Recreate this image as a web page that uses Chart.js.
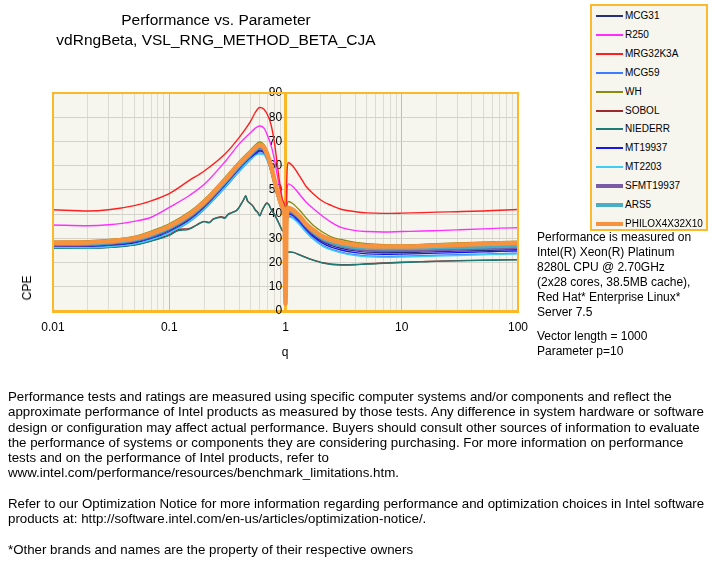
<!DOCTYPE html>
<html><head><meta charset="utf-8">
<script src="https://cdn.jsdelivr.net/npm/chart.js@4.4.0/dist/chart.umd.min.js"></script>
<style>
html,body{margin:0;padding:0;background:#fff;}
#wrap{position:relative;width:715px;height:570px;overflow:hidden;font-family:Arial,"Liberation Sans",sans-serif;color:#000;}
#c{position:absolute;left:0;top:0;}
.t{position:absolute;white-space:nowrap;}
#title{left:0;width:432px;top:10px;text-align:center;font-size:15.5px;line-height:19.5px;}
#note{left:537px;top:230px;font-size:12px;line-height:15px;}
#note2{left:537px;top:329px;font-size:12px;line-height:15px;}
#foot{left:8px;top:389px;font-size:13.3px;line-height:15.3px;}
#ytitle{left:27px;top:288px;font-size:12px;transform:translate(-50%,-50%) rotate(-90deg);}
#xtitle{left:285px;top:352px;font-size:12px;transform:translate(-50%,-50%);}
#legend{position:absolute;left:590px;top:4px;width:114px;height:223px;border:2px solid #FBBA2E;background:#F6F6EF;box-sizing:content-box;}
.li{position:absolute;left:0;height:14px;}
.ls{position:absolute;left:4px;width:27px;}
.lt{position:absolute;left:33px;top:0;font-size:10px;line-height:14px;letter-spacing:0px;}
</style></head><body>
<div id="wrap">
<canvas id="c" width="715" height="570"></canvas>
<div class="t" id="title">Performance vs. Parameter<br>vdRngBeta, VSL_RNG_METHOD_BETA_CJA</div>
<div class="t" id="ytitle">CPE</div>
<div class="t" id="xtitle">q</div>
<div id="legend"></div>
<div class="t" id="note">Performance is measured on<br>Intel(R) Xeon(R) Platinum<br>8280L CPU @ 2.70GHz<br>(2x28 cores, 38.5MB cache),<br>Red Hat* Enterprise Linux*<br>Server 7.5</div>
<div class="t" id="note2">Vector length = 1000<br>Parameter p=10</div>
<div class="t" id="foot">Performance tests and ratings are measured using specific computer systems and/or components and reflect the<br>approximate performance of Intel products as measured by those tests. Any difference in system hardware or software<br>design or configuration may affect actual performance. Buyers should consult other sources of information to evaluate<br>the performance of systems or components they are considering purchasing. For more information on performance<br>tests and on the performance of Intel products, refer to<br>www.intel.com/performance/resources/benchmark_limitations.htm.<br><br>Refer to our Optimization Notice for more information regarding performance and optimization choices in Intel software<br>products at: http://software.intel.com/en-us/articles/optimization-notice/.<br><br>*Other brands and names are the property of their respective owners</div>
</div>
<script>
// ---- data ----
const qMain = [0.01,0.02,0.03,0.05,0.07,0.1,0.15,0.2,0.3,0.4,0.5,0.55,0.6,0.65,0.7,0.75,0.8,0.85,0.9,0.95,0.98,1,1.02,1.06,1.15,1.33,1.5,1.72,2.1,2.5,3,4,5,7,10,15,20,30,50,70,100];
const qQuasi = [0.01,0.02,0.03,0.05,0.07,0.1,0.12,0.14,0.15,0.17,0.19,0.2,0.22,0.24,0.26,0.28,0.3,0.32,0.34,0.36,0.38,0.4,0.42,0.44,0.455,0.47,0.49,0.52,0.55,0.58,0.6,0.63,0.66,0.69,0.72,0.75,0.8,0.85,0.9,0.95,0.98,1,1.02,1.06,1.15,1.33,1.5,1.72,2.1,2.5,3,4,5,7,10,15,20,30,50,70,100];

const mcg31 = [26.8,26.8,27.2,28.4,30.3,33.2,38.0,43.0,52.0,58.7,63.5,65.3,66.4,65.8,62.6,58.2,52.8,48.0,44.3,41.5,40.0,5.0,36.0,40.5,40.0,37.2,34.2,31.5,28.5,27.0,25.9,24.8,24.3,24.1,24.1,24.3,24.5,24.7,25.0,25.2,25.4];
const r250 = [35.5,35.2,35.6,37.0,38.7,42.8,47.8,52.3,61.5,69.0,73.6,75.5,76.4,75.6,72.5,68.5,63.0,56.0,50.0,45.0,43.0,4.0,45.0,52.5,51.5,48.0,45.0,42.4,39.0,36.5,34.5,33.2,32.8,32.6,32.8,33.0,33.2,33.5,33.9,34.2,34.4];
const mrg32k3a = [41.8,41.3,41.8,43.5,45.5,48.5,54.0,57.8,64.7,71.7,78.3,82.0,84.0,83.4,81.0,77.0,70.0,60.5,51.5,45.5,43.0,4.0,50.0,61.2,60.0,55.5,51.5,48.5,45.2,43.5,42.0,41.0,40.5,40.3,40.4,40.6,40.8,41.0,41.3,41.6,41.9];
const mcg59 = [26.0,26.0,26.4,27.5,29.3,32.2,36.9,41.9,50.8,57.6,62.5,64.4,65.3,65.0,62.0,57.6,52.2,47.5,43.8,41.0,39.6,5.0,35.0,39.2,38.7,35.9,32.9,30.0,27.0,25.4,24.3,23.2,22.7,22.5,22.6,22.8,23.0,23.2,23.5,23.7,23.9];
const wh = [28.8,29.0,29.5,30.8,33.0,36.0,41.0,46.0,55.0,61.8,66.5,68.5,69.8,68.8,65.3,60.5,55.0,50.0,46.0,43.5,42.5,4.0,40.0,45.2,44.4,41.5,38.5,35.5,32.5,30.5,29.5,28.3,27.8,27.4,27.3,27.5,27.8,28.1,28.4,28.6,28.8];
const sobol = [26.0,26.0,26.3,27.3,29.0,31.4,33.6,33.9,34.1,35.4,36.7,37.0,36.6,38.0,38.6,38.9,38.5,39.9,40.5,41.0,41.6,42.9,44.6,46.2,47.4,45.6,44.7,43.6,41.8,40.6,39.4,41.6,43.4,44.6,43.9,42.1,40.1,37.6,35.1,33.1,32.1,5.0,20.2,24.4,24.3,23.2,22.1,21.1,19.9,19.3,19.1,19.2,19.5,19.8,20.1,20.4,20.6,20.8,21.0,21.1,21.2];
const niederr = [25.9,25.9,26.2,27.2,28.9,31.2,33.2,33.5,33.9,35.3,36.6,36.9,36.4,37.9,38.5,38.7,38.3,39.8,40.4,40.9,41.5,42.8,44.5,46.3,47.6,45.5,44.6,43.5,41.6,40.5,39.2,41.5,43.3,44.5,43.8,42.0,40.0,37.5,35.0,33.0,32.0,5.0,20.0,24.3,24.2,23.1,22.0,21.0,19.8,19.2,19.0,19.1,19.4,19.7,20.0,20.3,20.5,20.7,20.9,21.0,21.1];
const mt19937 = [26.4,26.4,26.8,28.0,29.8,32.6,37.4,42.4,51.4,58.1,63.0,64.9,66.0,65.5,62.4,58.0,52.5,47.8,44.0,41.3,39.8,5.0,35.5,40.0,39.5,36.7,33.7,30.9,27.9,26.3,25.2,24.1,23.6,23.4,23.5,23.7,23.9,24.1,24.4,24.6,24.8];
const mt2203 = [26.2,26.1,26.5,27.6,29.4,32.3,37.1,42.1,51.0,57.8,62.6,64.2,64.8,64.6,62.0,57.8,52.4,47.6,43.9,41.1,39.7,5.0,35.0,38.8,38.3,35.5,32.5,29.7,26.7,25.1,24.0,22.9,22.4,22.2,22.3,22.5,22.7,22.9,23.2,23.4,23.6];
const sfmt19937 = [27.2,27.3,27.7,28.9,30.8,33.8,38.7,43.7,52.6,59.4,64.1,66.0,67.2,66.4,63.2,58.8,53.3,48.5,44.7,41.8,40.3,5.0,36.5,41.0,40.4,37.8,34.8,32.1,29.3,27.8,26.7,25.5,25.0,24.8,24.9,25.0,25.2,25.4,25.7,25.9,26.1];
const ars5 = [27.6,27.7,28.1,29.3,31.2,34.2,39.2,44.2,53.2,60.0,64.7,66.6,67.8,67.0,63.8,59.2,53.8,48.8,45.0,42.0,40.5,5.0,37.0,41.5,41.0,38.3,35.3,32.6,29.8,28.3,27.2,26.2,25.8,25.6,25.7,25.8,26.0,26.2,26.4,26.6,26.8];
const philox = [28.2,28.3,28.8,30.0,32.0,35.0,40.0,45.0,54.0,60.8,65.4,67.3,68.6,67.8,64.5,60.0,54.5,49.5,45.3,42.5,41.0,3.0,38.0,42.5,41.8,39.0,36.0,33.5,30.7,29.3,28.3,27.3,26.8,26.6,26.6,26.8,27.0,27.3,27.7,27.9,28.1];

const seriesNames = ['MCG31','R250','MRG32K3A','MCG59','WH','SOBOL','NIEDERR','MT19937','MT2203','SFMT19937','ARS5','PHILOX4X32X10'];
const seriesValues = [mcg31,r250,mrg32k3a,mcg59,wh,sobol,niederr,mt19937,mt2203,sfmt19937,ars5,philox];
const seriesX = [qMain,qMain,qMain,qMain,qMain,qQuasi,qQuasi,qMain,qMain,qMain,qMain,qMain];

const xTickValues = [0.01,0.1,1,10,100];
const xTickLabels = ['0.01','0.1','1','10','100'];

// ---- styles ----
const seriesColors = ['#27307F','#FF2EFF','#FF1F1F','#3A7BFF','#8A8A10','#9E2B2B','#1E7A74','#1515F0','#3FCDF5','#7A5BA6','#4AACC5','#F7923E'];
const seriesWidths = [1.4,1.4,1.4,1.4,1.4,1.4,1.4,1.4,1.4,2.6,3.2,4.6];
const legendWidths = [2,2,2,2,2,2,2,2,2,3.5,3.5,4];
const ORANGE = '#FBB829';

// legend
const lg = document.getElementById('legend');
seriesNames.forEach((n,i)=>{
  const row = document.createElement('div');
  row.className='li';
  row.style.top = (3 + i*18.9) + 'px';
  row.style.width='114px';
  const s = document.createElement('div');
  s.className='ls';
  s.style.background = seriesColors[i];
  s.style.height = legendWidths[i]+'px';
  s.style.top = (7 - legendWidths[i]/2)+'px';
  const t = document.createElement('div');
  t.className='lt'; t.textContent=n;
  row.appendChild(s); row.appendChild(t); lg.appendChild(row);
});

const areaPlugin = {
  id:'area',
  beforeDraw(chart){
    const {ctx, chartArea:a} = chart;
    ctx.save(); ctx.fillStyle='#F6F6EF';
    ctx.fillRect(a.left,a.top,a.right-a.left,a.bottom-a.top); ctx.restore();
  },
  afterDraw(chart){
    const {ctx, chartArea:a} = chart;
    ctx.save(); ctx.strokeStyle=ORANGE; ctx.lineWidth=2;
    ctx.beginPath(); ctx.moveTo(a.left,a.bottom); ctx.lineTo(a.left,a.top);
    ctx.lineTo(a.right,a.top); ctx.lineTo(a.right,a.bottom); ctx.stroke(); ctx.restore();
  }
};

function isDecade(v){ return xTickValues.some(d=>Math.abs(v-d)/d < 1e-6); }

const datasets = seriesNames.map((n,i)=>({
  label:n,
  data: seriesX[i].map((x,j)=>({x:x, y:seriesValues[i][j]})),
  borderColor: seriesColors[i],
  borderWidth: seriesWidths[i],
  pointRadius:0,
  fill:false,
  cubicInterpolationMode:'monotone',
  order: 100 - i
}));

new Chart(document.getElementById('c'), {
  type:'line',
  data:{datasets},
  options:{
    responsive:false,
    animation:false,
    layout:{padding:{left:53,top:93,right:197,bottom:229}},
    plugins:{legend:{display:false}, tooltip:{enabled:false}},
    scales:{
      x:{
        type:'logarithmic', min:0.01, max:100, position:'bottom',
        afterBuildTicks(scale){
          const t=[];
          for (let d=0; d<xTickValues.length; d++){
            const base = xTickValues[d];
            for (let k=1;k<=9;k++){
              if (d===xTickValues.length-1 && k>1) break;
              t.push({value: +(base*k).toPrecision(6), major: k===1});
            }
          }
          scale.ticks = t;
        },
        afterFit(scale){ scale.height = 30; },
        grid:{ color: c => (c.tick && isDecade(c.tick.value)) ? '#BEBEB6' : '#DCDCD4', lineWidth:1, drawTicks:false },
        border:{color:ORANGE, width:3},
        ticks:{ autoSkip:false, maxRotation:0, padding:9, color:'#000', font:{family:'Arial', size:12},
          callback:(v)=>{ const i = xTickValues.findIndex(d=>Math.abs(v-d)/d<1e-6); return i>=0 ? xTickLabels[i] : ''; } }
      },
      y:{
        type:'linear', min:0, max:90, position:{x:1},
        ticks:{stepSize:10, color:'#000', font:{family:'Arial', size:12}, padding:6,
          callback:(v)=> v + ' '},
        grid:{color:'#D3D3CB', tickColor:ORANGE, tickLength:4, lineWidth:1},
        border:{color:ORANGE, width:3}
      }
    }
  },
  plugins:[areaPlugin]
});
</script>
</body></html>
